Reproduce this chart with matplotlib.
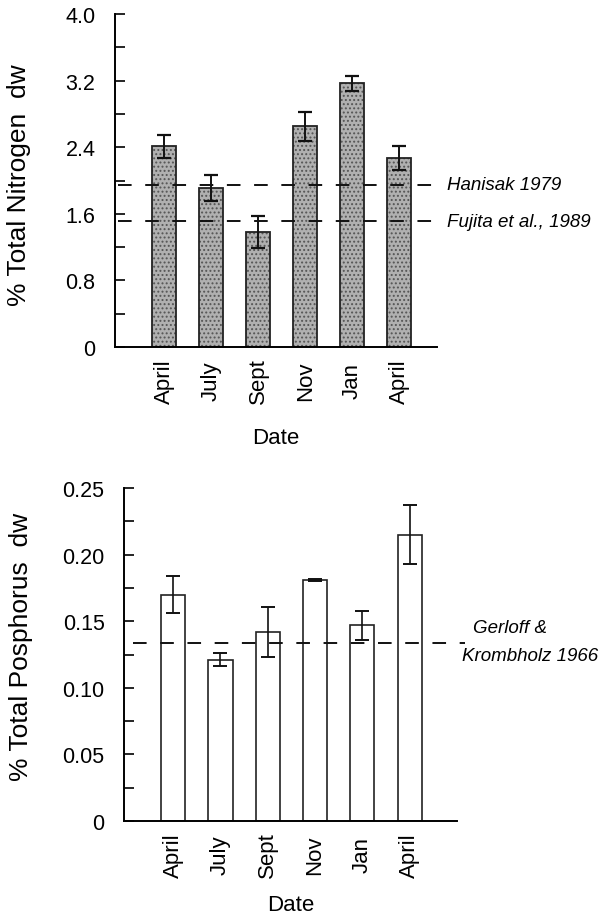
import matplotlib
matplotlib.use("Agg")
import matplotlib.pyplot as plt
import numpy as np

plt.rcParams['font.family'] = ['Liberation Sans', 'DejaVu Sans']
plt.rcParams['hatch.linewidth'] = 0.9

dates = ["April", "July", "Sept", "Nov", "Jan", "April"]

nitrogen = [2.41, 1.91, 1.38, 2.65, 3.17, 2.27]
nitrogen_err = [0.14, 0.16, 0.19, 0.17, 0.09, 0.14]
n_refs = [1.95, 1.51]
n_ref_labels = ["Hanisak 1979", "Fujita et al., 1989"]
n_yticks = [0, 0.8, 1.6, 2.4, 3.2, 4.0]
n_yticklabels = ["0", "0.8", "1.6", "2.4", "3.2", "4.0"]

phosphorus = [0.170, 0.121, 0.142, 0.181, 0.147, 0.215]
phosphorus_err = [0.014, 0.005, 0.019, 0.001, 0.011, 0.022]
p_ref = 0.134
p_ref_label = ["Gerloff &", "Krombholz 1966"]
p_yticks = [0, 0.05, 0.10, 0.15, 0.20, 0.25]
p_yticklabels = ["0", "0.05", "0.10", "0.15", "0.20", "0.25"]

W, H = 600, 920
fig = plt.figure(figsize=(W / 100, H / 100), dpi=100)

ax1 = fig.add_axes([115 / W, 1 - 348 / H, 322 / W, 333 / H])
ax2 = fig.add_axes([124 / W, 1 - 822 / H, 333 / W, 333 / H])

x = np.arange(len(dates))
lw = 1.4


def style(ax, yticks, yticklabels, minor_step, ymax, xmax, ylabel, lab_x, lab_y, xlabelpad):
    for s in ["top", "right"]:
        ax.spines[s].set_visible(False)
    for s in ["left", "bottom"]:
        ax.spines[s].set_linewidth(lw)
    ax.set_ylim(0, ymax)
    ax.set_xlim(-1.04, xmax)
    ax.set_yticks(yticks)
    ax.set_yticklabels(yticklabels, fontsize=15.5)
    ax.set_yticks(np.arange(0, ymax + 1e-9, minor_step), minor=True)
    ax.tick_params(axis="y", which="both", direction="in", length=7, width=1.2, pad=14)
    ax.set_xticks(x)
    ax.set_xticklabels(dates, rotation=90, fontsize=16, va="center")
    ax.tick_params(axis="x", length=0, pad=24)
    ax.set_xlabel("Date", fontsize=16, labelpad=xlabelpad)
    ax.set_ylabel(ylabel, fontsize=19)
    ax.yaxis.set_label_coords(lab_x, lab_y)


# Top panel: nitrogen (stippled grey bars)
ax1.bar(x, nitrogen, width=0.51, color="#b0b0b0", edgecolor="#555555", linewidth=0,
        hatch="....", zorder=2)
ax1.bar(x, nitrogen, width=0.51, fill=False, edgecolor="#222222", linewidth=1.3, zorder=2.5)
ax1.errorbar(x, nitrogen, yerr=nitrogen_err, fmt="none", ecolor="#111111",
             elinewidth=1.4, capsize=5, capthick=1.6, zorder=3)
for yv, lab in zip(n_refs, n_ref_labels):
    ax1.axhline(yv, xmin=0.01, xmax=0.985, color="#111111", linewidth=1.4,
                dashes=(7, 7), zorder=4)
    ax1.text(1.03, yv, lab, transform=ax1.get_yaxis_transform(), fontsize=13.5,
             style="italic", va="center", ha="left")
style(ax1, n_yticks, n_yticklabels, 0.4, 4.0, 5.8, "% Total Nitrogen  dw", -0.26, 0.49, 17)

# Bottom panel: phosphorus
ax2.bar(x, phosphorus, width=0.51, color="white", edgecolor="#222222", linewidth=1.2, zorder=2)
ax2.errorbar(x, phosphorus, yerr=phosphorus_err, fmt="none", ecolor="#111111",
             elinewidth=1.2, capsize=5, capthick=1.4, zorder=3)
ax2.axhline(p_ref, xmin=0.027, xmax=1.024, color="#111111", linewidth=1.4,
            dashes=(7, 7), zorder=4, clip_on=False)
ax2.text(1.048, 0.1455, p_ref_label[0], transform=ax2.get_yaxis_transform(), fontsize=13.5,
         style="italic", va="center", ha="left")
ax2.text(1.015, 0.124, p_ref_label[1], transform=ax2.get_yaxis_transform(), fontsize=13.5,
         style="italic", va="center", ha="left")
style(ax2, p_yticks, p_yticklabels, 0.025, 0.25, 6.0, "% Total Posphorus  dw", -0.273, 0.525, 12)

fig.savefig("out.png", dpi=100)
